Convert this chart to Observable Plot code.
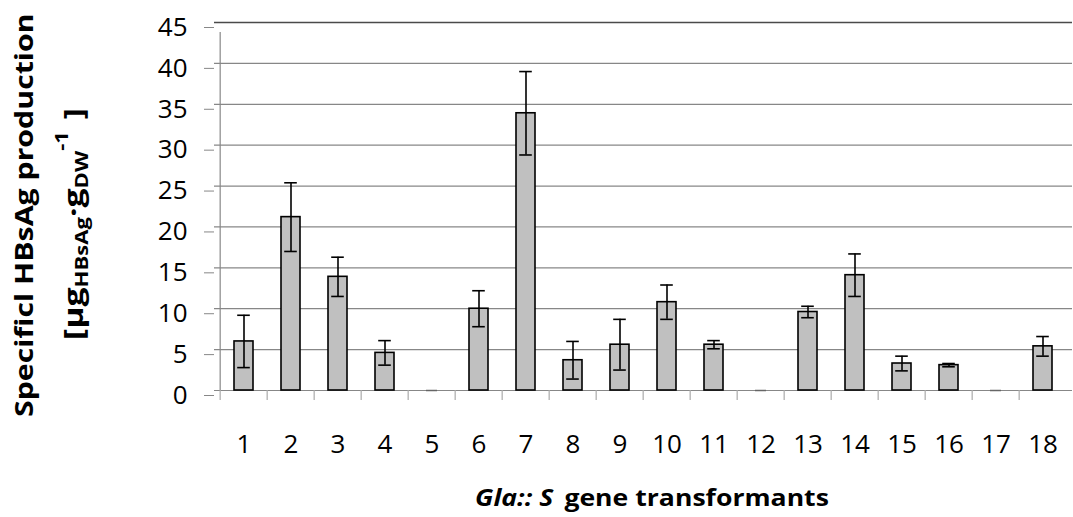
<!DOCTYPE html>
<html><head><meta charset="utf-8">
<script src="https://cdn.jsdelivr.net/npm/d3@7"></script>
<script src="https://cdn.jsdelivr.net/npm/@observablehq/plot@0.6"></script>
<style>body{margin:0;background:#fff} svg{display:block}</style>
</head><body><div id="chart"></div>
<script>
const transformants = ["1","2","3","4","5","6","7","8","9","10","11","12","13","14","15","16","17","18"];
const production = [6.0,21.2,13.9,4.6,0,10.0,33.9,3.7,5.6,10.8,5.6,0,9.6,14.1,3.3,3.1,0,5.4];
const errors = [3.2,4.2,2.4,1.5,0,2.2,5.1,2.3,3.1,2.1,0.5,0,0.7,2.6,0.9,0.2,0,1.2];
const yTicks = [0,5,10,15,20,25,30,35,40,45];

const data = transformants.map((t, i) => ({t, v: production[i], e: errors[i]}));
const withErr = data.filter(d => d.e > 0);
const zeros = data.filter(d => d.v === 0);

const W = 1073, H = 517, mL = 214, mR = 1, mT = 22, mB = 127;
const step = (W - mL - mR) / transformants.length;
const FONT = "'Open Sans', sans-serif";

const plot = Plot.plot({
  width: W, height: H,
  marginLeft: mL, marginRight: mR, marginTop: mT, marginBottom: mB,
  style: {fontFamily: FONT, fontSize: "26px", color: "#000", background: "#fff", overflow: "visible"},
  x: {domain: transformants, paddingInner: 0.6, paddingOuter: 0.3, label: null},
  y: {domain: [0, 45], label: null},
  marks: [
    Plot.ruleY(yTicks.slice(0, -1), {stroke: "#878787", strokeWidth: 1.2, strokeOpacity: 1}),
    Plot.ruleY([45], {stroke: "#4a4a4a", strokeWidth: 1.4, strokeOpacity: 1}),
    Plot.ruleX([transformants[0]], {x: d => d, y1: 0, y2: 45, insetBottom: -10, dx: -step / 2, stroke: "#878787", strokeWidth: 1.2}),
    Plot.ruleX(transformants, {x: d => d, y1: 0, y2: 0, insetBottom: -10, dx: -step / 2, stroke: "#aaaaaa", strokeWidth: 1.2}),
    Plot.axisY({ticks: yTicks, tickSize: 10, tickPadding: 17, stroke: "#878787", strokeOpacity: 1, dy: 5, fill: "#000", fontSize: 26, label: null}),
    Plot.axisX({tickSize: 0, tickPadding: 44, fill: "#000", fontSize: 26, label: null}),
    Plot.barY(data, {x: "t", y: "v", fill: "#c0c0c0", stroke: "#000", strokeWidth: 1.6}),
    Plot.tickY(zeros, {x: "t", y: "v", stroke: "#666", strokeWidth: 1.5, insetLeft: 4, insetRight: 4}),
    Plot.ruleX(withErr, {x: "t", y1: d => d.v - d.e, y2: d => d.v + d.e, stroke: "#000", strokeWidth: 1.6}),
    Plot.tickY(withErr, {x: "t", y: d => d.v + d.e, stroke: "#000", strokeWidth: 1.6, insetLeft: 3.2, insetRight: 3.2}),
    Plot.tickY(withErr, {x: "t", y: d => d.v - d.e, stroke: "#000", strokeWidth: 1.6, insetLeft: 3.2, insetRight: 3.2})
  ]
});

document.getElementById("chart").appendChild(plot);
const svg = d3.select(plot);

// stretch a text group along its baseline to a target length, keeping it centred at cx
function fit(g, target) {
  const b = g.node().getBBox();
  const s = target / b.width;
  return s;
}

// X axis title
const xg = svg.append("g");
const xt = xg.append("text")
  .attr("x", 0).attr("y", 0)
  .attr("text-anchor", "middle")
  .attr("font-family", FONT)
  .attr("font-weight", "bold")
  .attr("font-size", 24)
  .attr("fill", "#000");
xt.append("tspan").attr("font-style", "italic").text("Gla:: S");
xt.append("tspan").attr("dx", 10).text("gene transformants");
{
  const b = xt.node().getBBox();
  const s = 354 / b.width;
  xg.attr("transform", `translate(${652 - (b.x + b.width / 2) * s},506) scale(${s},1)`);
}

// Y axis title (two lines, rotated)
function yLine(build, targetLen, centerY, baselineX, size) {
  const g = svg.append("g");
  const t = g.append("text").attr("x", 0).attr("y", 0).attr("text-anchor", "start")
    .attr("font-family", FONT).attr("font-weight", "bold").attr("font-size", size).attr("fill", "#000");
  build(t);
  const b = t.node().getBBox();
  const s = targetLen / b.width;
  const mid = (b.x + b.width / 2) * s;
  g.attr("transform", `translate(${baselineX},${centerY}) rotate(-90) translate(${-mid},0) scale(${s},1)`);
}
yLine(t => t.text("Specificl HBsAg production"), 404, 215, 33, 25);
yLine(t => {
  t.append("tspan").text("[μg");
  t.append("tspan").attr("font-size", 17).attr("dy", 5).text("HBsAg");
  t.append("tspan").attr("dy", -5).text("·g");
  t.append("tspan").attr("font-size", 17).attr("dy", 5).text("DW");
  t.append("tspan").attr("font-size", 17).attr("dy", -20).text("-1");
  t.append("tspan").attr("dy", 15).attr("dx", 9).text("]");
}, 232, 224, 83, 26);
</script>
</body></html>
